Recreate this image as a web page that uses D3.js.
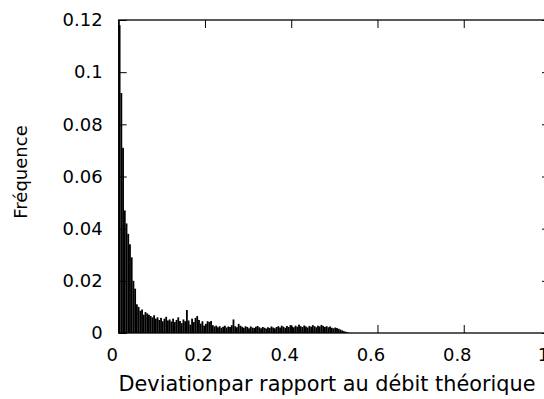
<!DOCTYPE html>
<html><head><meta charset="utf-8">
<script src="https://cdn.jsdelivr.net/npm/d3@7/dist/d3.min.js"></script>
<style>body{margin:0;background:#fff}svg{display:block}text{font-family:"DejaVu Sans",sans-serif;fill:#000}</style>
</head><body><svg id="c" width="544" height="399"></svg>
<script>
const binWidth = 0.004;
const binStarts = d3.range(0, 134).map(i => +(i * 0.004).toFixed(3));
const freq = [
0.118,0.092,0.071,0.047,0.042,0.038,0.034,0.029,0.020,0.017,0.011,0.010,0.0085,0.009,0.007,0.008,0.0075,0.007,
0.0065,0.006,0.0068,0.0055,0.006,0.005,0.0058,0.0045,0.0055,0.0062,0.0048,0.0052,0.0044,
0.0055,0.0042,0.005,0.006,0.0046,0.0038,0.0052,0.0045,0.0088,0.0048,0.0032,0.0055,0.0042,0.0058,0.0065,0.005,0.0036,0.0045,0.0028,0.0035,
0.0045,0.0042,0.0046,0.003,0.0025,0.0028,0.0022,0.0026,0.002,0.0024,0.0028,0.0021,0.0025,0.0023,0.0030,0.0052,0.0026,0.0022,0.0035,0.0028,
0.0024,0.0020,0.0026,0.0023,0.0018,0.0025,0.0021,0.0019,0.0024,0.0027,0.0022,0.0018,0.0023,0.0020,0.0017,0.0022,0.0019,0.0025,0.0021,0.0018,
0.0023,0.0026,0.0021,0.0028,0.0024,0.0020,0.0027,0.0023,0.0030,0.0025,0.0022,0.0028,0.0024,0.0032,0.0026,0.0023,0.0029,0.0025,0.0021,0.0027,
0.0024,0.0030,0.0026,0.0022,0.0028,0.0025,0.0031,0.0027,0.0023,0.0026,0.0022,0.0025,0.0020,0.0018,0.0021,
0.0019,0.0016,0.0013,0.0010,0.0007,0.0005,0.0003,0.0001
];
const xTicks = [0, 0.2, 0.4, 0.6, 0.8, 1];
const xTickLabels = ["0", "0.2", "0.4", "0.6", "0.8", "1"];
const yTicks = [0, 0.02, 0.04, 0.06, 0.08, 0.1, 0.12];
const yTickLabels = ["0", "0.02", "0.04", "0.06", "0.08", "0.1", "0.12"];
const xTitle = "Deviationpar rapport au débit théorique";
const yTitle = "Fréquence";

const svg = d3.select("#c");
const L = 118.7, R = 550, T = 20, B = 333;
const x = d3.scaleLinear().domain([0, 1]).range([L, R]);
const y = d3.scaleLinear().domain([0, 0.12]).range([B, T]);

svg.append("g").selectAll("rect").data(freq).join("rect")
  .attr("x", (d, i) => x(binStarts[i]))
  .attr("width", (d, i) => x(binStarts[i] + binWidth) - x(binStarts[i]) + 0.1)
  .attr("y", d => y(d))
  .attr("height", d => B - y(d))
  .attr("fill", "#000");

const tl = 8;
const axB = svg.append("g").attr("transform", `translate(0,${B})`)
  .call(d3.axisBottom(x).tickValues(xTicks).tickFormat((d, i) => xTickLabels[i]).tickSize(-tl).tickPadding(15));
const axT = svg.append("g").attr("transform", `translate(0,${T})`)
  .call(d3.axisTop(x).tickValues(xTicks).tickFormat("").tickSize(-tl));
const axL = svg.append("g").attr("transform", `translate(${L},0)`)
  .call(d3.axisLeft(y).tickValues(yTicks).tickFormat((d, i) => yTickLabels[i]).tickSize(-tl).tickPadding(16));
const axR = svg.append("g").attr("transform", `translate(${R},0)`)
  .call(d3.axisRight(y).tickValues(yTicks).tickFormat("").tickSize(-tl));
[axB, axT, axL, axR].forEach(a => {
  a.select(".domain").remove();
  a.selectAll("line").attr("stroke", "#000").attr("stroke-width", 1);
  a.selectAll("text").style("font-size", "18px").style("font-family", '"DejaVu Sans",sans-serif');
});
axB.selectAll("text").attr("dx", -7);
svg.append("rect").attr("x", L).attr("y", T).attr("width", R - L).attr("height", B - T)
  .attr("fill", "none").attr("stroke", "#000").attr("stroke-width", 1.3);

const xt = svg.append("text").attr("x", 327).attr("y", 391).attr("text-anchor", "middle")
  .style("font-size", "18px").text(xTitle);
const w = xt.node().getComputedTextLength();
xt.style("font-size", (18 * 417 / w).toFixed(2) + "px");
svg.append("text").attr("transform", "translate(27,172) rotate(-90)").attr("text-anchor", "middle")
  .style("font-size", "18px").text(yTitle);
</script></body></html>
